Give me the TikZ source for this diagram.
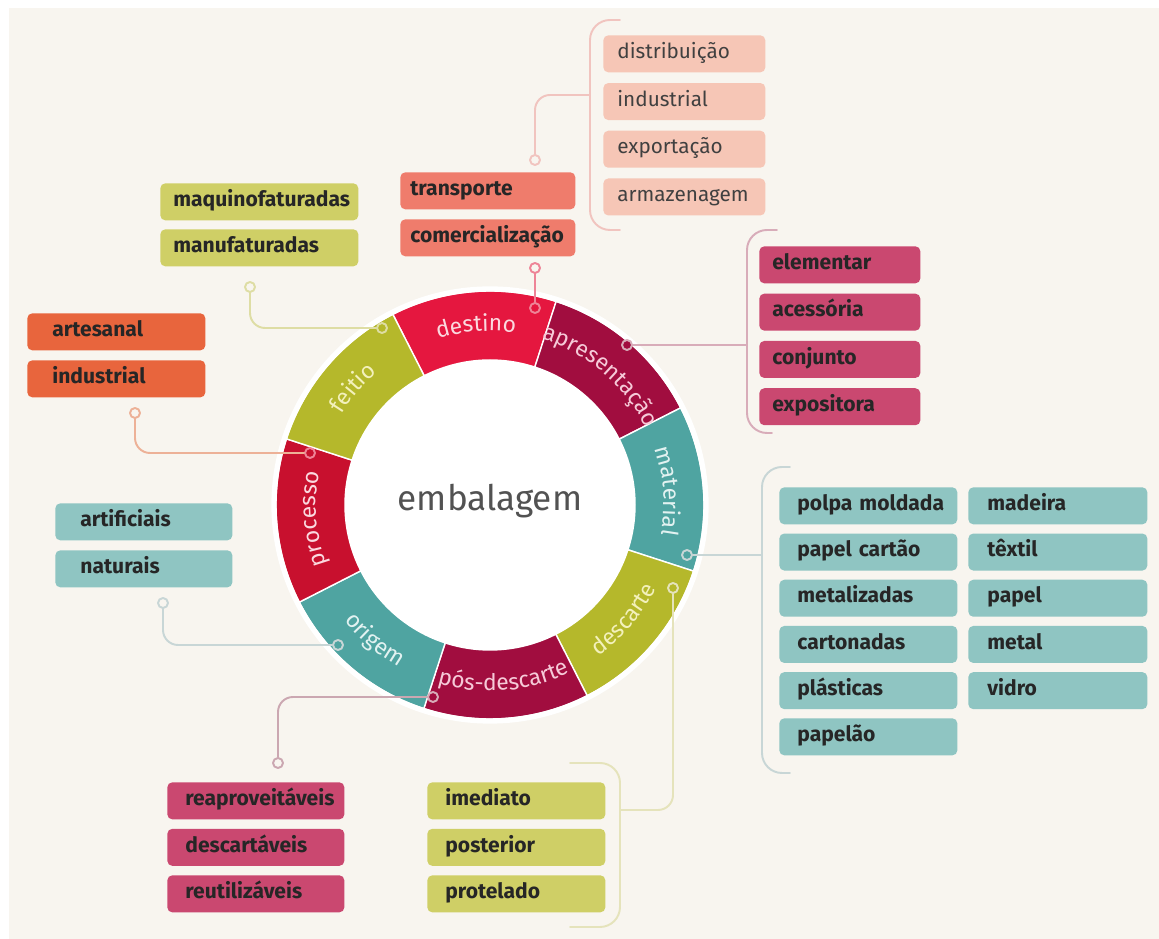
\documentclass[tikz,border=0pt]{standalone}
\usepackage{fontspec}
\setmainfont{Fira Sans}
\usetikzlibrary{decorations.text}

\definecolor{bg}{HTML}{F8F5EF}
\definecolor{segred}{HTML}{E5173F}
\definecolor{segdark}{HTML}{A10D3F}
\definecolor{segteal}{HTML}{4FA4A1}
\definecolor{segolive}{HTML}{B5B82B}
\definecolor{segcrim}{HTML}{C8102E}
% boxes
\definecolor{boxsalmon}{HTML}{EF7C6C}
\definecolor{boxpeach}{HTML}{F6C6B6}
\definecolor{boxolive}{HTML}{CFCF66}
\definecolor{boxorange}{HTML}{E8653D}
\definecolor{boxteal}{HTML}{8FC5C2}
\definecolor{boxrose}{HTML}{CA4870}
% lines
\definecolor{lnred}{HTML}{EE8497}
\definecolor{lnpeach}{HTML}{F1C4BF}
\definecolor{lnolive}{HTML}{DEDDA4}
\definecolor{lnorange}{HTML}{EDB197}
\definecolor{lnteal}{HTML}{C8D6D6}
\definecolor{lnrose}{HTML}{CBA7B1}
\definecolor{lnpale}{HTML}{E5E3BB}
\definecolor{lnmauve}{HTML}{D8ACB9}
% ring labels
\definecolor{labred}{HTML}{FBD9DF}
\definecolor{labdark}{HTML}{F6CAD8}
\definecolor{labteal}{HTML}{E2F2F1}
\definecolor{labolive}{HTML}{F3F1BC}

\newcommand{\boxfont}{\hyphenpenalty=10000\fontsize{12}{13}\selectfont\bfseries}
\newcommand{\thinfont}{\hyphenpenalty=10000\fontsize{11.8}{13}\selectfont}
\newcommand{\ringfont}{\fontsize{13}{13}\selectfont}

\tikzset{
  item/.style={anchor=north west, rounded corners=2.8pt, minimum height=0.74cm, align=left,
    text height=0.75em, text depth=0.22em, font=\boxfont, text=black!85},
  conn/.style={draw=#1, line width=1.1pt, rounded corners=0.3cm},
  bracket/.style={draw=#1, line width=1.1pt, rounded corners=0.4cm},
  dot/.style={circle, draw=#1, line width=1.1pt, fill=bg, minimum size=0.2cm, inner sep=0pt},
}

\begin{document}
\begin{tikzpicture}[x=0.02cm,y=0.02cm,line cap=round,line join=round]
  \useasboundingbox (0,0) rectangle (1159,939);
  \fill[white] (0,0) rectangle (1159,939);
  \fill[bg] (9,0) rectangle (1159,931);

  % ring
  \begin{scope}[shift={(490,434)}]
    \foreach \a/\b/\c in {72/117/segred, 27/72/segdark, -18/27/segteal, -63/-18/segolive,
                          -108/-63/segdark, -153/-108/segteal, -198/-153/segcrim, 117/162/segolive}{
      \fill[\c, draw=white, line width=0.8pt] (\a:214) arc[start angle=\a, end angle=\b, radius=214]
        -- (\b:145) arc[start angle=\b, end angle=\a, radius=145] -- cycle;
    }
    \draw[white, line width=3pt] (0,0) circle[radius=216];
    \fill[white] (0,0) circle[radius=145];

    \path[decorate, decoration={text along path, text align=center, text={|\ringfont\color{labred}|destino}}]
      (134.5:174) arc[start angle=134.5, end angle=54.5, radius=174];
    \path[decorate, decoration={text along path, text align=center, text={|\ringfont\color{labdark}|apresentação}}]
      (89.5:174) arc[start angle=89.5, end angle=9.5, radius=174];
    \path[decorate, decoration={text along path, text align=center, text={|\ringfont\color{labteal}|material}}]
      (44.5:174) arc[start angle=44.5, end angle=-35.5, radius=174];
    \path[decorate, decoration={text along path, text align=center, text={|\ringfont\color{labolive}|descarte}}]
      (-80.5:186) arc[start angle=-80.5, end angle=-0.5, radius=186];
    \path[decorate, decoration={text along path, text align=center, text={|\ringfont\color{labdark}|pós-descarte}}]
      (-125.5:186) arc[start angle=-125.5, end angle=-45.5, radius=186];
    \path[decorate, decoration={text along path, text align=center, text={|\ringfont\color{labteal}|origem}}]
      (-170.5:186) arc[start angle=-170.5, end angle=-90.5, radius=186];
    \path[decorate, decoration={text along path, text align=center, text={|\ringfont\color{labred}|processo}}]
      (224.5:174) arc[start angle=224.5, end angle=144.5, radius=174];
    \path[decorate, decoration={text along path, text align=center, text={|\ringfont\color{labolive}|feitio}}]
      (179.5:174) arc[start angle=179.5, end angle=99.5, radius=174];
  \end{scope}
  \node[font=\fontsize{20}{20}\selectfont, text=black!68] (hub) at (490,438) {embalagem};

  % boxes
  \node[item, fill=boxsalmon, text width=3.1cm, inner xsep=0.2cm] (transporte) at (400,767) {transporte};
  \node[item, fill=boxsalmon, text width=3.1cm, inner xsep=0.2cm] (comercial) at (400,720) {comercialização};
  \foreach \t [count=\i from 0] in {distribuição, industrial, exportação, armazenagem}
    \node[item, font=\thinfont, text=black!75, fill=boxpeach, text width=2.68cm, inner xsep=0.28cm] (dist-\i) at (603,904-47.7*\i) {\t};
  \foreach \t [count=\i from 0] in {maquinofaturadas, manufaturadas}
    \node[item, fill=boxolive, text width=3.44cm, inner xsep=0.26cm] (feit-\i) at (160,756-46*\i) {\t};
  \foreach \t [count=\i from 0] in {artesanal, industrial}
    \node[item, fill=boxorange, text width=2.56cm, inner xsep=0.5cm] (proc-\i) at (27,626-47*\i) {\t};
  \foreach \t [count=\i from 0] in {artificiais, naturais}
    \node[item, fill=boxteal, text width=2.54cm, inner xsep=0.5cm] (orig-\i) at (55,436-47*\i) {\t};
  \foreach \t [count=\i from 0] in {elementar, acessória, conjunto, expositora}
    \node[item, fill=boxrose, text width=2.7cm, inner xsep=0.26cm] (apr-\i) at (759,693-47.3*\i) {\t};
  \foreach \t [count=\i from 0] in {polpa~moldada, papel~cartão, metalizadas, cartonadas, plásticas, papelão}
    \node[item, fill=boxteal, text width=2.84cm, inner xsep=0.36cm] (matl-\i) at (779,452-46.2*\i) {\t};
  \foreach \t [count=\i from 0] in {madeira, têxtil, papel, metal, vidro}
    \node[item, fill=boxteal, text width=2.82cm, inner xsep=0.38cm] (matr-\i) at (968,452-46.2*\i) {\t};
  \foreach \t [count=\i from 0] in {reaproveitáveis, descartáveis, reutilizáveis}
    \node[item, fill=boxrose, text width=2.82cm, inner xsep=0.36cm] (pos-\i) at (167,157-46.5*\i) {\t};
  \foreach \t [count=\i from 0] in {imediato, posterior, protelado}
    \node[item, fill=boxolive, text width=2.84cm, inner xsep=0.36cm] (desc-\i) at (427,157-46.5*\i) {\t};

  % dots
  \node[dot=lnred, fill=segred] (d-destino) at (535,631) {};
  \node[dot=lnred] (d-comercial) at (535,671) {};
  \node[dot=lnpeach] (d-transporte) at (535,779) {};
  \node[dot=lnolive, fill=segolive] (d-feitio) at (382,611) {};
  \node[dot=lnolive] (d-maqui) at (250,652) {};
  \node[dot=lnred, fill=segcrim] (d-processo) at (310,486) {};
  \node[dot=lnorange] (d-artes) at (135,526) {};
  \node[dot=lnteal, fill=segteal] (d-origem) at (338,294) {};
  \node[dot=lnteal] (d-artif) at (163,336) {};
  \node[dot=lnmauve, fill=segdark] (d-pos) at (433,242) {};
  \node[dot=lnrose] (d-reap) at (278,176) {};
  \node[dot=lnpale, fill=segolive] (d-descarte) at (673,351) {};
  \node[dot=lnteal, fill=segteal] (d-material) at (687,384) {};
  \node[dot=lnmauve, fill=segdark] (d-apres) at (627,594) {};

  \coordinate (brk-dist) at (590,844);
  \coordinate (brk-apr) at (747,594);
  \coordinate (brk-mat) at (762,384);
  \coordinate (brk-desc) at (620,129);

  % connectors
  \draw[conn=lnred] (d-destino) -- (d-comercial);
  \draw[conn=lnpeach] (d-transporte) |- (brk-dist);
  \draw[conn=lnolive] (d-feitio) -| (d-maqui);
  \draw[conn=lnorange] (d-processo) -| (d-artes);
  \draw[conn=lnteal] (d-origem) -| (d-artif);
  \draw[conn=lnrose] (d-pos) -| (d-reap);
  \draw[conn=lnpale] (d-descarte) |- (brk-desc);
  \draw[conn=lnteal] (d-material) -- (brk-mat);
  \draw[conn=lnmauve] (d-apres) -- (brk-apr);

  % brackets
  \draw[bracket=lnpeach] (620,919) -- (590,919) -- (590,709) -- (620,709);
  \draw[bracket=lnmauve] (777,709) -- (747,709) -- (747,506) -- (772,506);
  \draw[bracket=lnteal] (790,472) -- (762,472) -- (762,166) -- (790,166);
  \draw[bracket=lnpale] (570,176) -- (620,176) -- (620,12) -- (570,12);
\end{tikzpicture}
\end{document}
